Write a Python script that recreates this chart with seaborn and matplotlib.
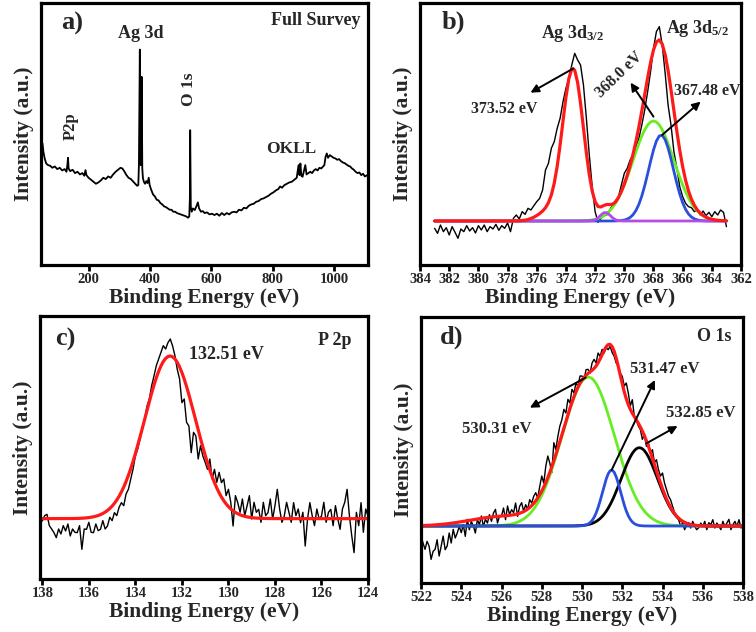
import numpy as np
import pandas as pd
import seaborn as sns
import matplotlib
matplotlib.use("Agg")
import matplotlib.pyplot as plt

# ---------------- data ----------------
# (a) full survey: (binding energy eV, intensity a.u.)
survey_points = [
    (50, 365), (53, 340), (57, 320), (62, 305), (68, 300), (75, 298), (82, 292), (90, 296),
    (98, 288), (106, 292), (114, 284), (122, 288), (128, 280), (131, 300), (133, 322), (135, 290),
    (140, 282), (148, 286), (156, 276), (164, 280), (172, 272), (180, 276), (186, 268), (190, 285),
    (193, 270), (200, 262), (208, 256), (216, 250), (224, 244), (232, 248), (240, 254), (248, 262),
    (256, 258), (264, 266), (272, 262), (280, 272), (288, 280), (296, 286), (304, 292), (310, 290),
    (316, 282), (322, 272), (330, 262), (338, 258), (346, 250), (352, 244), (358, 238), (362, 240),
    (364, 300), (366, 560), (367, 647), (368, 500), (369, 330), (370, 300), (371, 350), (372, 480),
    (373, 565), (374, 420), (375, 290), (377, 262), (380, 250), (384, 244), (388, 252), (392, 246),
    (396, 262), (399, 240), (404, 226), (410, 212), (416, 206), (422, 196), (428, 194), (434, 186),
    (440, 182), (446, 176), (452, 174), (458, 170), (464, 166), (470, 166), (476, 160), (482, 160),
    (488, 156), (494, 154), (500, 152), (506, 150), (512, 148), (518, 146), (524, 142), (528, 146),
    (530, 200), (531, 405), (532, 300), (533, 175), (536, 160), (540, 170), (546, 165), (552, 178),
    (556, 188), (560, 170), (566, 160), (572, 162), (578, 156), (586, 158), (594, 152), (602, 154),
    (610, 150), (618, 154), (626, 148), (634, 156), (642, 150), (650, 156), (658, 152), (666, 158),
    (674, 160), (682, 158), (690, 166), (698, 164), (706, 172), (714, 170), (722, 178), (730, 182),
    (738, 184), (746, 190), (754, 192), (762, 198), (770, 200), (778, 204), (786, 208), (794, 214),
    (802, 218), (810, 224), (818, 228), (824, 236), (830, 232), (838, 240), (846, 244), (854, 248),
    (862, 250), (870, 256), (878, 262), (884, 300), (887, 270), (890, 305), (893, 268), (897, 265),
    (902, 285), (906, 300), (910, 272), (916, 276), (922, 280), (928, 276), (934, 284), (940, 288),
    (946, 284), (952, 292), (958, 290), (964, 296), (968, 300), (972, 325), (976, 335), (980, 322),
    (986, 330), (992, 326), (998, 322), (1004, 320), (1010, 316), (1016, 318), (1022, 312), (1028, 308),
    (1034, 306), (1040, 302), (1046, 298), (1052, 296), (1058, 290), (1064, 286), (1070, 280), (1076, 276),
    (1082, 278), (1088, 270), (1094, 274), (1100, 266), (1108, 270),
]
survey_ev = [p[0] for p in survey_points]
survey_int = [p[1] for p in survey_points]

# (b) Ag 3d raw spectrum, 383.0 -> 363.0 eV in 0.2 eV steps
ag_ev = np.round(np.arange(383.0, 362.9, -0.2), 1)
ag_int = [110, 95, 120, 100, 112, 90, 115, 98, 80, 108, 100, 118, 102, 112, 96, 118, 105, 120, 100, 115,
          108, 122, 104, 118, 110, 126,
          100, 140, 150, 138, 160, 152, 170, 165, 178, 190, 200, 225, 285, 305, 350, 370, 410, 440, 490,
          530, 560, 600, 635, 615, 600,
          540, 440, 330, 235, 160, 128, 140, 148, 150, 165, 180, 192, 205, 240, 275, 290, 315, 330, 355,
          380, 420, 465, 520, 580, 650,
          700, 715, 660, 575, 480, 420, 340, 290, 235, 205, 185, 175, 172, 160, 166, 150, 162, 148, 158,
          145, 160, 150, 165, 158, 115]
ag_baseline = 132
ag_fit_center = [373.52, 368.0, 367.48, 371.3, 375.3]   # 3d3/2, green, blue, purple bump, shoulder
ag_fit_amp = [458, 300, 258, 26, 25]
ag_fit_sigma = [0.72, 1.4, 0.84, 0.35, 0.7]

# (c) P 2p raw spectrum, 138.0 -> 124.0 eV in 0.1 eV steps
p_ev = np.round(np.arange(138.0, 123.95, -0.1), 1)
p_int = [174, 190, 194, 160, 150, 139, 124, 150, 135, 160,
         144, 165, 129, 150, 140, 139, 160, 89, 150, 149,
         170, 140, 139, 165, 145, 149, 175, 150, 159, 185,
         175, 199, 190, 215, 229, 220, 255, 269, 300, 330,
         369, 390, 420, 449, 480, 519, 540, 580, 609, 640,
         660, 679, 700, 690, 709, 720, 699, 670, 629, 600,
         529, 540, 470, 459, 379, 440, 429, 360, 400, 369,
         350, 329, 360, 300, 329, 290, 320, 289, 300, 250,
         269, 230, 159, 250, 229, 200, 240, 190, 219, 250,
         180, 230, 200, 209, 170, 230, 190, 199, 240, 180,
         220, 269, 210, 170, 189, 230, 200, 170, 229, 190,
         210, 169, 200, 99, 180, 229, 190, 160, 210, 180,
         189, 230, 170, 200, 209, 160, 220, 180, 149, 210,
         230, 269, 190, 130, 79, 200, 160, 229, 140, 210,
         189]
p_baseline = 181
p_fit_center = [132.51]
p_fit_amp = [488]
p_fit_sigma = [1.1]

# (d) O 1s raw spectrum, 522.0 -> 538.0 eV in 0.1 eV steps
o_ev = np.round(np.arange(522.0, 538.05, 0.1), 1)
o_int = [141, 120, 101, 125, 111, 71, 95, 101, 130, 81,
         110, 141, 100, 111, 150, 120, 161, 135, 150, 170,
         151, 175, 140, 191, 160, 185, 171, 150, 190, 175,
         201, 170, 191, 180, 205, 185, 210, 221, 180, 200,
         201, 225, 190, 231, 205, 220, 211, 240, 200, 230,
         241, 215, 235, 221, 250, 240, 260, 271, 255, 290,
         321, 300, 350, 381, 360, 331, 421, 400, 440, 471,
         490, 521, 510, 551, 540, 581, 570, 600, 590, 621,
         621, 610, 640, 641, 630, 660, 671, 660, 690, 680,
         701, 690, 706, 700, 710, 691, 680, 660, 651, 630,
         620, 591, 600, 570, 531, 550, 500, 490, 471, 460,
         431, 445, 410, 421, 390, 400, 361, 370, 340, 321,
         330, 300, 280, 261, 250, 230, 211, 200, 190, 171,
         180, 160, 175, 181, 165, 185, 170, 160, 166, 180,
         170, 185, 160, 181, 175, 190, 165, 180, 171, 160,
         185, 170, 180, 191, 160, 175, 185, 170, 190, 165,
         176]
o_baseline = 171
o_fit_center = [530.31, 531.47, 532.85, 526.0]   # green, blue, black, low-BE tail
o_fit_amp = [447, 168, 235, 28]
o_fit_sigma = [1.3, 0.45, 0.9, 1.6]

# ---------------- style ----------------
sns.set_theme(style="white")
plt.rcParams["font.family"] = ["Liberation Serif", "DejaVu Serif"]
plt.rcParams["font.weight"] = "bold"
plt.rcParams["axes.labelweight"] = "bold"
plt.rcParams["mathtext.fontset"] = "custom"
plt.rcParams["mathtext.rm"] = "Liberation Serif:bold"
plt.rcParams["mathtext.bf"] = "Liberation Serif:bold"
plt.rcParams["mathtext.it"] = "Liberation Serif:bold:italic"

RED = "#ff1a1a"
GREEN = "#66ee22"
BLUE = "#2a4fdd"
PURPLE = "#b24de8"

LABEL_FS = 15.5
TICK_FS = 10.5


def gauss(x, c, a, s):
    return a * np.exp(-(np.asarray(x, float) - c) ** 2 / (2 * s ** 2))


def style_axes(ax, xlim, ylim, xticks):
    ax.set_xlim(*xlim)
    ax.set_ylim(*ylim)
    ax.set_xticks(xticks)
    ax.set_yticks([])
    for sp in ax.spines.values():
        sp.set_color("black")
        sp.set_linewidth(2.3)
        sp.set_visible(True)
    ax.tick_params(axis="x", direction="out", length=4, width=2, color="black",
                   labelsize=TICK_FS, pad=2, bottom=True)
    for lab in ax.get_xticklabels():
        lab.set_fontweight("bold")
    ax.set_xlabel("Binding Energy (eV)", fontsize=LABEL_FS, fontweight="bold", labelpad=1)
    ax.set_ylabel("Intensity (a.u.)", fontsize=LABEL_FS, fontweight="bold", labelpad=5)
    ax.grid(False)
    ax.set_facecolor("white")


def line(ax, x, y, color, lw):
    sns.lineplot(x=np.asarray(x, float), y=np.asarray(y, float), ax=ax, color=color,
                 linewidth=lw, sort=False, estimator=None, legend=False)


fig = plt.figure(figsize=(7.56, 6.32), dpi=100)
fig.patch.set_facecolor("white")

ax_a = fig.add_axes([0.0542, 0.5807, 0.4325, 0.4146])
ax_b = fig.add_axes([0.5556, 0.5807, 0.4246, 0.4146])
ax_c = fig.add_axes([0.0529, 0.0839, 0.4339, 0.4161])
ax_d = fig.add_axes([0.5569, 0.0775, 0.4259, 0.4209])

arrow = dict(arrowstyle="-|>", color="black", lw=1.4, mutation_scale=12, shrinkA=0, shrinkB=0)

# ---------------- (a) survey ----------------
line(ax_a, survey_ev, survey_int, "black", 1.3)
style_axes(ax_a, (45, 1110), (0, 787), [200, 400, 600, 800, 1000])
ax_a.text(146, 725, "a)", fontsize=19, fontweight="bold", ha="center", va="center")
ax_a.text(940, 733, "Full Survey", fontsize=13, fontweight="bold", ha="center", va="center")
ax_a.text(371, 695, "Ag 3d", fontsize=13, fontweight="bold", ha="center", va="center")
ax_a.text(141, 417, "P2p", fontsize=12, fontweight="bold", ha="center", va="center", rotation=90)
ax_a.text(526, 529, "O 1s", fontsize=12.5, fontweight="bold", ha="center", va="center", rotation=90)
ax_a.text(861, 348, "OKLL", fontsize=12.5, fontweight="bold", ha="center", va="center")

# ---------------- (b) Ag 3d ----------------
ag_x = np.asarray(ag_ev, float)
ag_comp = [gauss(ag_x, c, a, s) for c, a, s in zip(ag_fit_center, ag_fit_amp, ag_fit_sigma)]
ag_env = ag_baseline + sum(ag_comp)
line(ax_b, ag_ev, ag_int, "black", 1.0)
line(ax_b, ag_ev, ag_baseline + ag_comp[1], GREEN, 2.0)
line(ax_b, ag_ev, ag_baseline + ag_comp[2], BLUE, 2.0)
line(ax_b, ag_ev, ag_baseline + ag_comp[3], PURPLE, 2.0)
line(ax_b, ag_ev, ag_env, RED, 2.3)
style_axes(ax_b, (384, 362), (0, 786), list(range(384, 361, -2)))
ax_b.text(381.7, 727, "b)", fontsize=19, fontweight="bold", ha="center", va="center")
ax_b.text(373.55, 695, "Ag 3d$_{3/2}$", fontsize=13, fontweight="bold", ha="center", va="center")
ax_b.text(365.0, 710, "Ag 3d$_{5/2}$", fontsize=13, fontweight="bold", ha="center", va="center")
ax_b.text(378.2, 467, "373.52 eV", fontsize=11.5, fontweight="bold", ha="center", va="center")
ax_b.text(370.36, 570, "368.0 eV", fontsize=11.5, fontweight="bold", ha="center", va="center",
          rotation=44)
ax_b.text(364.34, 523, "367.48 eV", fontsize=11.5, fontweight="bold", ha="center", va="center")
ax_b.annotate("", xy=(376.43, 517), xytext=(373.48, 590), arrowprops=arrow)
ax_b.annotate("", xy=(369.57, 547), xytext=(368.0, 445), arrowprops=arrow)
ax_b.annotate("", xy=(364.77, 490), xytext=(367.41, 390), arrowprops=arrow)

# ---------------- (c) P 2p ----------------
p_x = np.asarray(p_ev, float)
p_env = p_baseline + sum(gauss(p_x, c, a, s) for c, a, s in zip(p_fit_center, p_fit_amp, p_fit_sigma))
line(ax_c, p_ev, p_int, "black", 1.0)
line(ax_c, p_ev, p_env, RED, 2.3)
style_axes(ax_c, (138.1, 124), (0, 789), list(range(138, 123, -2)))
ax_c.text(137.0, 719, "c)", fontsize=19, fontweight="bold", ha="center", va="center")
ax_c.text(130.09, 674, "132.51 eV", fontsize=13, fontweight="bold", ha="center", va="center")
ax_c.text(125.45, 714, "P 2p", fontsize=13, fontweight="bold", ha="center", va="center")

# ---------------- (d) O 1s ----------------
o_x = np.asarray(o_ev, float)
o_comp = [gauss(o_x, c, a, s) for c, a, s in zip(o_fit_center, o_fit_amp, o_fit_sigma)]
o_env = o_baseline + sum(o_comp)
line(ax_d, o_ev, o_int, "black", 1.0)
line(ax_d, o_ev, o_baseline + o_comp[0], GREEN, 2.0)
line(ax_d, o_ev, o_baseline + o_comp[2], "black", 2.0)
line(ax_d, o_ev, o_baseline + o_comp[1], BLUE, 2.0)
line(ax_d, o_ev, o_env, RED, 2.3)
style_axes(ax_d, (522, 538), (0, 798), list(range(522, 539, 2)))
ax_d.text(523.5, 736, "d)", fontsize=19, fontweight="bold", ha="center", va="center")
ax_d.text(536.55, 741, "O 1s", fontsize=13, fontweight="bold", ha="center", va="center")
ax_d.text(525.76, 461, "530.31 eV", fontsize=12, fontweight="bold", ha="center", va="center")
ax_d.text(534.12, 641, "531.47 eV", fontsize=12, fontweight="bold", ha="center", va="center")
ax_d.text(535.9, 511, "532.85 eV", fontsize=12, fontweight="bold", ha="center", va="center")
ax_d.annotate("", xy=(527.41, 526), xytext=(530.18, 616), arrowprops=arrow)
ax_d.annotate("", xy=(533.62, 609), xytext=(531.47, 339), arrowprops=arrow)
ax_d.annotate("", xy=(534.75, 471), xytext=(533.2, 419), arrowprops=arrow)

fig.savefig("out.png", dpi=100, facecolor="white")
